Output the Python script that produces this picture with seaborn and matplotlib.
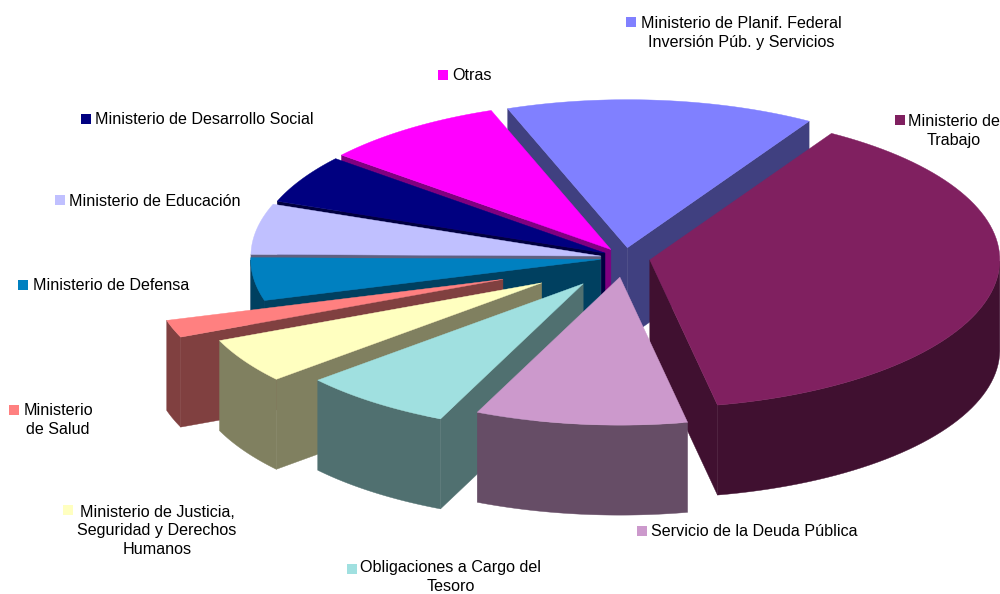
"""Exploded 3D pie of budget shares by ministry, drawn by hand on a seaborn-themed axis."""

import matplotlib.pyplot as plt
import numpy as np
import seaborn as sns

# slices run clockwise from START_ANGLE
SLICE_NAMES = [
    "Ministerio de Planif. Federal\nInversión Púb. y Servicios",
    "Ministerio de\nTrabajo",
    "Servicio de la Deuda Pública",
    "Obligaciones a Cargo del\nTesoro",
    "Ministerio de Justicia,\nSeguridad y Derechos\nHumanos",
    "Ministerio\nde Salud",
    "Ministerio de Defensa",
    "Ministerio de Educación",
    "Ministerio de Desarrollo Social",
    "Otras",
]
SHARES = [14.2, 38.1, 9.75, 7.0, 4.9, 1.9, 4.65, 5.5, 5.3, 8.4]
COLORS = [
    "#8080FF", "#802060", "#CC99CC", "#A0E0E0", "#FFFFC0",
    "#FF8080", "#0080C0", "#C0C0FF", "#000080", "#FF00FF",
]
EXPLODE = [0.07, 0.072, 0.13, 0.2, 0.28, 0.37, 0.07, 0.07, 0.066, 0.07]
# extra downward shift in pixels for the front-left slices
DROP = [0, 0, 0, 2, 3, 3, 0, 0, 0, 0]

# back to front, indexes into the lists above
DRAW_ORDER = [0, 9, 8, 7, 6, 1, 5, 4, 3, 2]

START_ANGLE = 110.0
CENTER = (625.0, 258.0)
RX, RY, DEPTH = 350.0, 148.0, 90.0
SHADE = 0.5

# label layout: square x, square y, text x, text y, alignment
LABEL_LAYOUT = [
    (631, 22, 741, 33, "center"),
    (900, 120, 954, 131, "center"),
    (642, 531, 651, 532, "left"),
    (352, 569, 451, 577, "center"),
    (68, 510, 157, 531, "center"),
    (14, 410, 58, 420, "center"),
    (23, 285, 33, 286, "left"),
    (60, 200, 69, 201, "left"),
    (86, 119, 95, 120, "left"),
    (443, 75, 452, 76, "left"),
]


def _shaded(color: str) -> tuple:
    """Returns the darker side colour for a slice."""
    return tuple(c * SHADE for c in plt.matplotlib.colors.to_rgb(color))


def _draw_slice(ax, start: float, sweep: float, explode: float, drop: float, color: str) -> None:
    """Draws the visible side faces and the top of one slice."""
    mid = np.radians(start - sweep / 2)
    apex_x = CENTER[0] + explode * RX * np.cos(mid)
    apex_y = CENTER[1] - explode * RY * np.sin(mid) + drop
    angles = np.radians(np.linspace(start, start - sweep, 80))
    arc_x = apex_x + RX * np.cos(angles)
    arc_y = apex_y - RY * np.sin(angles)
    side = _shaded(color)

    # radial walls, kept only when their outward side faces the viewer
    for end, sign in ((0, -1), (-1, 1)):
        dx = arc_x[end] - apex_x
        if sign * dx > 0:
            ax.fill(
                [apex_x, arc_x[end], arc_x[end], apex_x],
                [apex_y, arc_y[end], arc_y[end] + DEPTH, apex_y + DEPTH],
                color=side, lw=0.3,
            )

    # outer rim on the front half only
    front = np.sin(angles) <= 0
    if front.sum() > 1:
        ax.fill(
            np.r_[arc_x[front], arc_x[front][::-1]],
            np.r_[arc_y[front], arc_y[front][::-1] + DEPTH],
            color=side, lw=0.3,
        )

    ax.fill(np.r_[apex_x, arc_x], np.r_[apex_y, arc_y], color=color, lw=0.3)


def main() -> None:
    sns.set_theme(style="white")
    plt.rcParams["font.family"] = ["Liberation Sans", "DejaVu Sans"]

    fig = plt.figure(figsize=(10, 5.94), dpi=100)
    ax = fig.add_axes([0, 0, 1, 1])
    ax.set_xlim(0, 1000)
    ax.set_ylim(594, 0)
    ax.axis("off")

    sweeps = 360.0 * np.array(SHARES) / sum(SHARES)
    starts = START_ANGLE - np.r_[0, np.cumsum(sweeps)[:-1]]
    for i in DRAW_ORDER:
        _draw_slice(ax, starts[i], sweeps[i], EXPLODE[i], DROP[i], COLORS[i])

    for name, color, (sq_x, sq_y, txt_x, txt_y, align) in zip(SLICE_NAMES, COLORS, LABEL_LAYOUT):
        sns.scatterplot(x=[sq_x], y=[sq_y], marker="s", s=50, color=color, edgecolor="none", ax=ax, clip_on=False)
        ax.text(txt_x, txt_y, name, ha=align, va="center", multialignment="center",
                fontsize=11.6, color="black", linespacing=1.32)

    fig.savefig("out.png", dpi=100)
    plt.close(fig)


if __name__ == "__main__":
    main()
